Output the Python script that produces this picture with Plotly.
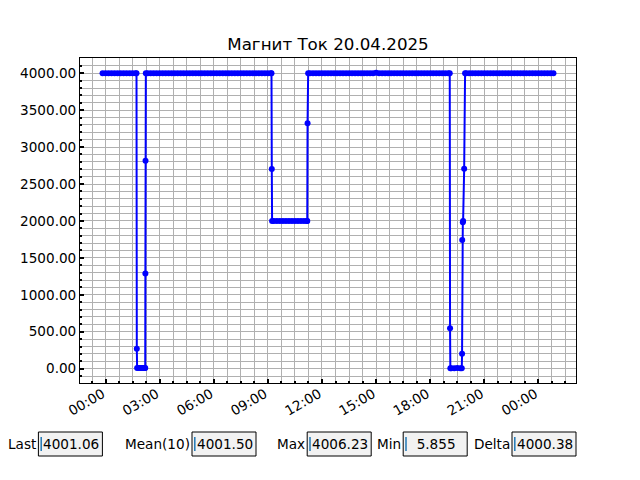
import pandas as pd
import plotly.graph_objects as go

title_text = "Магнит Ток 20.04.2025"
day_start = pd.Timestamp("2025-04-20 00:00")

# ---- data: minutes after 20.04.2025 00:00, current values ----
seg1_t = [-10, 0, 10, 20, 30, 40, 50, 60, 70, 80, 90, 100, 103]
seg1_v = [4000.0, 4000.0, 4000.0, 4000.0, 4000.0, 4000.0, 4000.0, 4000.0, 4000.0, 4000.0,
          4000.0, 4000.0, 4000.0]

dip1_t = [104, 105, 110, 115, 120, 125, 130, 132, 132.5, 133]
dip1_v = [270.0, 8.0, 7.5, 8.2, 7.9, 8.4, 7.7, 8.1, 1289.0, 2815.0]

seg2_t = [134, 140, 150, 160, 170, 180, 190, 200, 210, 220,
          230, 240, 250, 260, 270, 280, 290, 300, 310, 320,
          330, 340, 350, 360, 370, 380, 390, 400, 410, 420,
          430, 440, 450, 460, 470, 480, 490, 500, 510, 520,
          530, 540, 550, 552]
seg2_v = [4000.0, 4000.0, 4000.0, 4000.0, 4000.0, 4000.0, 4000.0, 4000.0, 4000.0, 4000.0,
          4000.0, 4000.0, 4000.0, 4000.0, 4000.0, 4000.0, 4000.0, 4000.0, 4000.0, 4000.0,
          4000.0, 4000.0, 4000.0, 4000.0, 4000.0, 4000.0, 4000.0, 4000.0, 4000.0, 4000.0,
          4000.0, 4000.0, 4000.0, 4000.0, 4000.0, 4000.0, 4000.0, 4000.0, 4000.0, 4000.0,
          4000.0, 4000.0, 4000.0, 4000.0]

step_t = [553, 554, 560, 570, 580, 590, 600, 610, 620, 630, 640, 650, 660, 670, 671, 672]
step_v = [2703.0, 2000.0, 2000.0, 2000.0, 2000.0, 2000.0, 2000.0, 2000.0, 2000.0, 2000.0,
          2000.0, 2000.0, 2000.0, 2000.0, 2000.0, 3322.0]

seg3_t = [674, 680, 690, 700, 710, 720, 730, 740, 750, 760,
          770, 780, 790, 800, 810, 820, 830, 840, 850, 860,
          870, 880, 890, 900, 910, 920, 930, 940, 950, 960,
          970, 980, 990, 1000, 1010, 1020, 1030, 1040, 1050, 1060,
          1070, 1080, 1090, 1100, 1110, 1120, 1130, 1140, 1145]
seg3_v = [4000.0, 4000.0, 4000.0, 4000.0, 4000.0, 4000.0, 4000.0, 4000.0, 4000.0, 4000.0,
          4000.0, 4000.0, 4000.0, 4000.0, 4000.0, 4000.0, 4000.0, 4000.0, 4000.0, 4000.0,
          4000.0, 4000.0, 4000.0, 4006.23, 4000.0, 4000.0, 4000.0, 4000.0, 4000.0, 4000.0,
          4000.0, 4000.0, 4000.0, 4000.0, 4000.0, 4000.0, 4000.0, 4000.0, 4000.0, 4000.0,
          4000.0, 4000.0, 4000.0, 4000.0, 4000.0, 4000.0, 4000.0, 4000.0, 4000.0]

dip2_t = [1146, 1147, 1150, 1160, 1170, 1180, 1185, 1186, 1186.5, 1188.5, 1189.5, 1193]
dip2_v = [548.0, 7.2, 5.855, 6.8, 7.4, 6.5, 7.0, 202.0, 1742.0, 1984.0, 2000.0, 2707.0]

seg4_t = [1196, 1200, 1210, 1220, 1230, 1240, 1250, 1260, 1270, 1280,
          1290, 1300, 1310, 1320, 1330, 1340, 1350, 1360, 1370, 1380,
          1390, 1400, 1410, 1420, 1430, 1440, 1450, 1460, 1470, 1480,
          1490]
seg4_v = [4000.0, 4000.0, 4000.0, 4000.0, 4000.0, 4000.0, 4000.0, 4000.0, 4000.0, 4000.0,
          4000.0, 4000.0, 4000.0, 4000.0, 4000.0, 4000.0, 4000.0, 4000.0, 4000.0, 4000.0,
          4000.0, 4000.0, 4000.0, 4000.0, 4000.0, 4000.0, 4000.0, 4000.0, 4000.0, 4000.0,
          4001.06]

readout_labels = ["Last", "Mean(10)", "Max", "Min", "Delta"]
readout_values = ["4001.06", "4001.50", "4006.23", "\u00a0\u00a05.855", "4000.38"]

y_ticks = [0, 500, 1000, 1500, 2000, 2500, 3000, 3500, 4000]

time_min = seg1_t + dip1_t + seg2_t + step_t + seg3_t + dip2_t + seg4_t
current = seg1_v + dip1_v + seg2_v + step_v + seg3_v + dip2_v + seg4_v
assert len(time_min) == len(current)

x_times = day_start + pd.to_timedelta(time_min, unit="m")

# matplotlib-like 5% autoscale margins
t_lo, t_hi = min(time_min), max(time_min)
t_pad = 0.05 * (t_hi - t_lo)
v_lo, v_hi = min(current), max(current)
v_pad = 0.05 * (v_hi - v_lo)

FONT = "DejaVu Sans"
FS = 13.6
W, H = 640, 480
PL, PR, PT, PB = 80, 576, 58, 383  # plot area in pixels


def px_x(px):
    return (px - PL) / (PR - PL)


def px_y(py):
    return (PB - py) / (PB - PT)


fig = go.Figure()
fig.add_trace(go.Scatter(
    x=x_times, y=current, mode="lines+markers",
    line=dict(color="#0000ff", width=2),
    marker=dict(color="#0000ff", size=6),
    showlegend=False,
))

grid_col = "#b0b0b0"
fig.update_xaxes(
    type="date", automargin=False,
    range=[day_start + pd.Timedelta(minutes=t_lo - t_pad), day_start + pd.Timedelta(minutes=t_hi + t_pad)],
    tick0=day_start, dtick=3 * 3600 * 1000, tickformat="%H:%M", tickangle=-30,
    ticks="inside", ticklen=4, tickwidth=1.5, tickcolor="black",
    ticklabelshift=-3, ticklabelstandoff=-3,
    showgrid=True, gridcolor=grid_col, gridwidth=0.8,
    minor=dict(dtick=45 * 60 * 1000, ticks="inside", ticklen=2, tickcolor="black",
               showgrid=True, gridcolor=grid_col, gridwidth=0.8),
    showline=True, linecolor="black", linewidth=1, mirror=True,
    zeroline=False,
    tickfont=dict(family=FONT, size=FS, color="black"),
)
fig.update_yaxes(
    automargin=False,
    range=[v_lo - v_pad, v_hi + v_pad],
    tickmode="array", tickvals=y_ticks, tickformat=".2f",
    ticks="inside", ticklen=4, tickwidth=1.5, tickcolor="black",
    showgrid=True, gridcolor=grid_col, gridwidth=0.8,
    minor=dict(dtick=100, ticks="inside", ticklen=2, tickcolor="black",
               showgrid=True, gridcolor=grid_col, gridwidth=0.8),
    showline=True, linecolor="black", linewidth=1, mirror=True,
    zeroline=False,
    tickfont=dict(family=FONT, size=FS, color="black"),
)

shapes = []
annotations = []
box_left = [38.4, 192.0, 307.2, 403.2, 512.0]
box_w, box_top, box_bot = 64.0, 432.0, 456.0
for lbl, val, bx in zip(readout_labels, readout_values, box_left):
    shapes.append(dict(type="rect", xref="paper", yref="paper",
                       x0=px_x(bx), x1=px_x(bx + box_w), y0=px_y(box_bot), y1=px_y(box_top),
                       fillcolor="#f2f2f2", line=dict(color="black", width=1), layer="above"))
    annotations.append(dict(xref="paper", yref="paper", x=px_x(bx - 0.5), y=px_y(444),
                            text=lbl, showarrow=False, xanchor="right", yanchor="middle",
                            font=dict(family=FONT, size=FS, color="black")))
    annotations.append(dict(xref="paper", yref="paper", x=px_x(bx + 3.0), y=px_y(444),
                            text=val, showarrow=False, xanchor="left", yanchor="middle",
                            font=dict(family=FONT, size=FS, color="black")))
    shapes.append(dict(type="line", xref="paper", yref="paper",
                       x0=px_x(bx + 2.8), x1=px_x(bx + 2.8), y0=px_y(451), y1=px_y(437),
                       line=dict(color="#1f77b4", width=1.5), layer="above"))

fig.update_layout(
    width=W, height=H,
    margin=dict(l=PL, r=W - PR, t=PT, b=H - PB, autoexpand=False),
    paper_bgcolor="white", plot_bgcolor="white",
    font=dict(family=FONT, size=FS, color="black"),
    title=dict(text=title_text, x=0.5, xref="paper", xanchor="center",
               y=1 - 44 / H, yref="container", yanchor="middle", automargin=False,
               font=dict(family=FONT, size=16.7, color="black")),
    shapes=shapes, annotations=annotations,
)

fig.write_html("out.html", config={"displayModeBar": False},
               post_script="document.body.style.margin='0';document.body.style.overflow='hidden';")
